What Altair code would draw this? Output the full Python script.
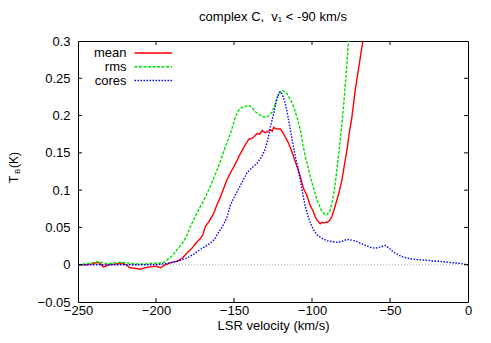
import altair as alt
import pandas as pd

# ---- data ----
mean_v = [-250, -245, -241, -238, -236, -233.7, -230, -226, -222, -219, -217, -213, -210, -207,
          -204, -200, -197, -194, -190, -186, -183, -180, -177, -174, -171.6, -170, -168.4, -166,
          -163, -161, -158.7, -156.5, -154.5, -152.3, -150.2, -148, -145.9, -143, -140.6, -138,
          -135.2, -133.5, -132, -130, -128.3, -126.7, -125.5, -124.6, -122.4, -120.3, -118.6,
          -117.1, -115.5, -113.9, -112.3, -110.7, -109, -107.5, -106.5, -105.4, -103.3, -101.1,
          -99.5, -97.9, -96.5, -94.7, -93.6, -92.6, -91, -90, -88.5, -87.2, -85.5, -84, -82.3,
          -80.8, -79.2, -77.6, -76, -74.4, -72.3, -70, -67.4, -65]
mean_t = [0.000, 0.000, 0.001, 0.003, 0.002, -0.003, 0.000, 0.001, 0.002, 0.000, -0.004, -0.005,
          -0.006, -0.004, -0.003, -0.002, -0.004, 0.000, 0.003, 0.005, 0.009, 0.016, 0.022, 0.030,
          0.035, 0.040, 0.051, 0.058, 0.069, 0.080, 0.091, 0.103, 0.114, 0.123, 0.131, 0.140,
          0.149, 0.160, 0.168, 0.170, 0.176, 0.175, 0.180, 0.177, 0.179, 0.181, 0.179, 0.184,
          0.182, 0.182, 0.177, 0.171, 0.165, 0.157, 0.148, 0.138, 0.128, 0.118, 0.110, 0.102,
          0.093, 0.079, 0.073, 0.064, 0.059, 0.055, 0.057, 0.056, 0.057, 0.057, 0.060, 0.065,
          0.076, 0.087, 0.100, 0.114, 0.134, 0.154, 0.178, 0.198, 0.234, 0.265, 0.300, 0.335]

rms_v = [-250, -246, -242, -238, -235, -231, -228, -225, -221, -217, -212, -207, -202, -198, -195,
         -192, -189, -187.8, -185, -182.4, -180, -178, -175, -171.6, -168, -165.2, -163, -160.9,
         -158.7, -156.6, -154.5, -152.3, -150.5, -149.1, -147.5, -145.9, -143, -140.6, -138.5,
         -136.3, -133.5, -131, -129, -127, -125.6, -124, -122.4, -120.5, -119.2, -117.5, -116,
         -114, -111.8, -109.5, -107.5, -106, -104.3, -102.5, -101.1, -99, -96.8, -95, -93.6, -92,
         -90.4, -88.3, -86.5, -85.1, -83.5, -81.9, -80.8, -79.8, -78.7, -77.6, -76.6, -75.5]
rms_t = [0.000, 0.001, 0.002, 0.004, 0.003, 0.001, 0.002, 0.003, 0.003, 0.002, 0.001, 0.001,
         0.002, 0.002, 0.003, 0.008, 0.013, 0.017, 0.024, 0.031, 0.040, 0.051, 0.064, 0.078,
         0.092, 0.105, 0.116, 0.127, 0.139, 0.152, 0.164, 0.176, 0.188, 0.198, 0.205, 0.210,
         0.212, 0.214, 0.211, 0.205, 0.201, 0.198, 0.198, 0.201, 0.205, 0.213, 0.223, 0.231,
         0.234, 0.232, 0.229, 0.222, 0.212, 0.197, 0.181, 0.163, 0.145, 0.131, 0.118, 0.103,
         0.087, 0.078, 0.071, 0.068, 0.067, 0.073, 0.090, 0.109, 0.137, 0.167, 0.190, 0.212,
         0.240, 0.270, 0.299, 0.330]

cores_v = [-250, -240, -230, -220, -210, -200, -196, -192, -188, -184.4, -180, -176, -172, -168,
           -165.2, -162.5, -160.9, -158.7, -156.5, -154.5, -152.3, -150, -148, -145, -141.7,
           -138.5, -135.2, -132.5, -130, -128.3, -126.7, -124.6, -122.4, -121, -120.3, -119,
           -117.1, -115.5, -113.9, -112.3, -110.7, -109, -107.5, -106, -104.3, -102.5, -101.1,
           -99, -96.8, -94, -90.4, -87, -84, -81, -77.6, -74.5, -71.2, -68, -64.8, -62, -59.5,
           -56, -53.1, -50.5, -47.8, -44.6, -41.4, -37, -32.8, -27, -22.2, -16, -11.5, -6, 0]
cores_t = [0.000, 0.000, 0.000, 0.000, 0.000, 0.000, 0.001, 0.002, 0.004, 0.006, 0.009, 0.014,
           0.020, 0.025, 0.029, 0.034, 0.040, 0.047, 0.055, 0.064, 0.080, 0.090, 0.098, 0.110,
           0.123, 0.130, 0.136, 0.144, 0.155, 0.168, 0.185, 0.202, 0.224, 0.231, 0.232, 0.228,
           0.216, 0.200, 0.181, 0.163, 0.145, 0.130, 0.114, 0.096, 0.078, 0.065, 0.056, 0.047,
           0.040, 0.036, 0.032, 0.031, 0.030, 0.031, 0.034, 0.033, 0.031, 0.028, 0.025, 0.023,
           0.022, 0.024, 0.026, 0.022, 0.017, 0.013, 0.010, 0.008, 0.007, 0.006, 0.005, 0.004,
           0.003, 0.002, 0.000]

series = ["mean", "rms", "cores"]
colors = ["#ff0000", "#00e000", "#0000ff"]
dashes = [[1, 0], [3, 1.5], [1.5, 1.5]]

x_ticks = [-250, -200, -150, -100, -50, 0]
y_ticks = [-0.05, 0, 0.05, 0.1, 0.15, 0.2, 0.25, 0.3]

W, H = 390, 261
FONT = "Liberation Sans"
TL = 4  # inward tick length

rows = []
for name, vs, ts in [("mean", mean_v, mean_t), ("rms", rms_v, rms_t), ("cores", cores_v, cores_t)]:
    for i, (v, t) in enumerate(zip(vs, ts)):
        rows.append({"v": v, "T": t, "series": name, "order": i})
df = pd.DataFrame(rows)

xscale = alt.Scale(domain=[-250, 0], nice=False, zero=False)
yscale = alt.Scale(domain=[-0.05, 0.3], nice=False, zero=False)
cscale = alt.Scale(domain=series, range=colors)
dscale = alt.Scale(domain=series, range=dashes)

xaxis = alt.Axis(values=x_ticks, ticks=False, domain=False, grid=False, labelPadding=2,
                 title="LSR velocity (km/s)", titlePadding=2, labelFlush=False, labelOverlap=False)
yaxis = alt.Axis(values=y_ticks, ticks=False, domain=False, grid=False, labelPadding=8,
                 title=None, labelFlush=False, labelOverlap=False,
                 labelExpr="datum.value == 0 ? '0' : format(datum.value, '.2~f')")

lines = alt.Chart(df).mark_line(strokeWidth=1.4, clip=True).encode(
    x=alt.X("v:Q", scale=xscale, axis=xaxis),
    y=alt.Y("T:Q", scale=yscale, axis=yaxis),
    color=alt.Color("series:N", scale=cscale, legend=None),
    strokeDash=alt.StrokeDash("series:N", scale=dscale, legend=None),
    order="order:Q",
)

zero = alt.Chart(pd.DataFrame({"y": [0]})).mark_rule(color="#a0a0a0", strokeWidth=0.8,
                                                       strokeDash=[1, 2]).encode(
    y=alt.Y("y:Q", scale=yscale, axis=yaxis))

yt = pd.DataFrame({"y": y_ticks[1:-1]})
xt = pd.DataFrame({"x": x_ticks[1:-1]})
tick_style = dict(color="black", strokeWidth=1)
left_ticks = alt.Chart(yt).mark_rule(**tick_style).encode(
    y=alt.Y("y:Q", scale=yscale, axis=yaxis), x=alt.value(0), x2=alt.value(TL))
right_ticks = alt.Chart(yt).mark_rule(**tick_style).encode(
    y=alt.Y("y:Q", scale=yscale, axis=yaxis), x=alt.value(W - TL), x2=alt.value(W))
bottom_ticks = alt.Chart(xt).mark_rule(**tick_style).encode(
    x=alt.X("x:Q", scale=xscale, axis=xaxis), y=alt.value(H - TL), y2=alt.value(H))
top_ticks = alt.Chart(xt).mark_rule(**tick_style).encode(
    x=alt.X("x:Q", scale=xscale, axis=xaxis), y=alt.value(0), y2=alt.value(TL))

# y-axis title  T_B (K)  with subscript B
title_T = alt.Chart(pd.DataFrame({"t": ["T"]})).mark_text(
    angle=270, align="left", baseline="alphabetic", font=FONT, fontSize=12, color="black",
    x=-60, y=142).encode(text="t:N")
title_B = alt.Chart(pd.DataFrame({"t": ["B"]})).mark_text(
    angle=270, align="left", baseline="alphabetic", font=FONT, fontSize=8, color="black",
    x=-58, y=133).encode(text="t:N")
title_K = alt.Chart(pd.DataFrame({"t": ["(K)"]})).mark_text(
    angle=270, align="left", baseline="alphabetic", font=FONT, fontSize=12, color="black",
    x=-60, y=127).encode(text="t:N")

main = alt.layer(zero, lines, left_ticks, right_ticks, bottom_ticks, top_ticks,
                 title_T, title_B, title_K)

# gnuplot-style key: label on the left, line sample on the right
key_df = pd.DataFrame({"series": series})
key_y = alt.Y("series:N", scale=alt.Scale(type="point", domain=series, range=[12, 39.5], padding=0),
              axis=None)
key_text = alt.Chart(key_df).mark_text(align="right", baseline="middle", font=FONT, fontSize=13,
                                       color="black", x=48.5).encode(y=key_y, text="series:N")
key_line = alt.Chart(key_df).mark_rule(strokeWidth=1.4).encode(
    y=key_y, x=alt.value(56.5), x2=alt.value(94),
    color=alt.Color("series:N", scale=cscale, legend=None),
    strokeDash=alt.StrokeDash("series:N", scale=dscale, legend=None))
key = alt.layer(key_text, key_line)

chart = alt.layer(main, key).resolve_scale(y="independent").properties(
    width=W, height=H,
    title=alt.TitleParams("complex C,\u00a0 v₁ < -90 km/s", font=FONT, fontSize=13,
                          fontWeight="normal", offset=11, color="black"),
    padding={"left": 70, "top": 33, "right": 15, "bottom": 33},
    autosize=alt.AutoSizeParams(type="none"),
).configure_view(stroke="black", strokeWidth=1).configure_axis(
    labelFont=FONT, labelFontSize=13, labelColor="black", titleFont=FONT, titleFontSize=13,
    titleFontWeight="normal", titleColor="black"
)

chart.save("out.html", embed_options={"renderer": "svg", "actions": False})
